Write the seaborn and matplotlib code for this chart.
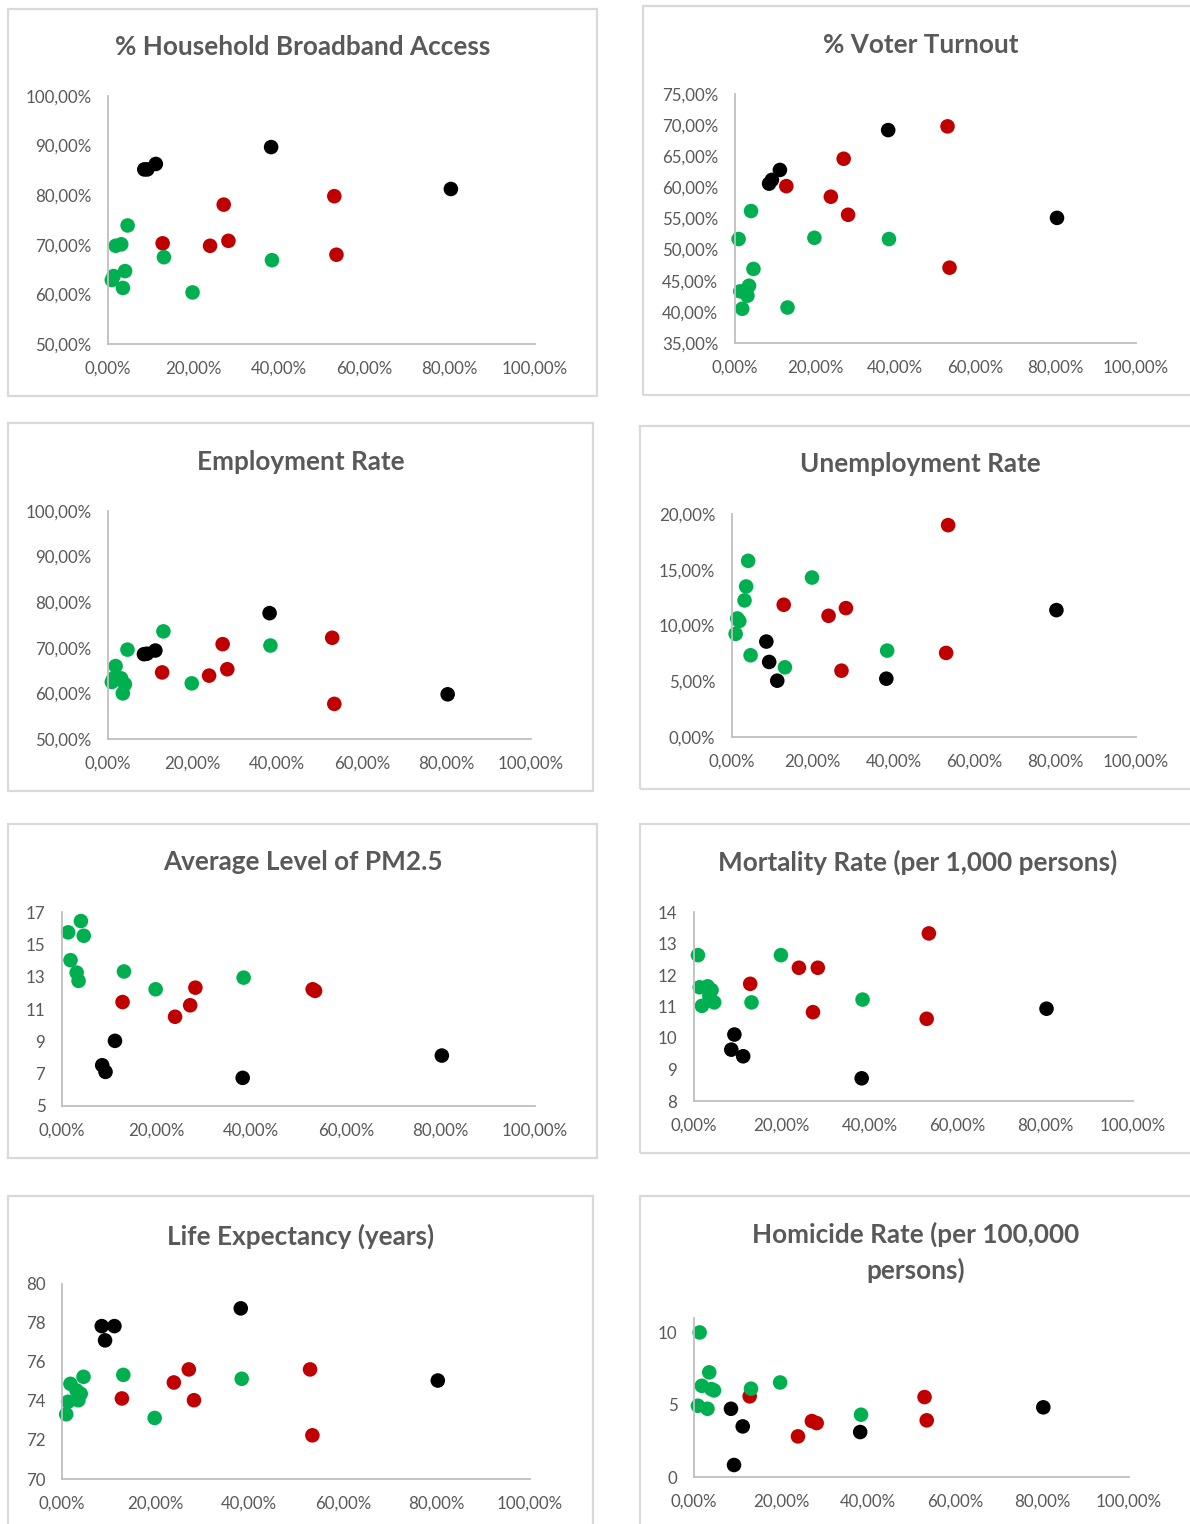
import numpy as np
import pandas as pd
import matplotlib
matplotlib.use("Agg")
import matplotlib.pyplot as plt
import seaborn as sns
from matplotlib.patches import Rectangle
from matplotlib.ticker import FuncFormatter

# Share (%) for each country, by group
black_x = [8.5, 9.2, 11.2, 38.2, 80.3]
red_x = [12.8, 23.9, 27.1, 28.2, 53.0, 53.5]
green_x = [0.9, 1.3, 1.8, 3.1, 3.5, 4.0, 4.6, 13.1, 19.8, 38.4]

# Indicator values, same country order as the x lists
broadband_black = [85.2, 85.2, 86.3, 89.7, 81.25]
broadband_red = [70.3, 69.8, 78.1, 70.8, 79.8, 68.0]
broadband_green = [62.9, 63.7, 69.8, 70.1, 61.3, 64.7, 73.9, 67.5, 60.4, 66.9]

voter_black = [60.6, 61.2, 62.8, 69.2, 55.1]
voter_red = [60.2, 58.5, 64.6, 55.6, 69.8, 47.1]
voter_green = [51.7, 43.3, 40.5, 42.6, 44.2, 56.2, 46.9, 40.7, 51.9, 51.7]

employment_black = [68.6, 68.7, 69.4, 77.6, 59.8]
employment_red = [64.6, 63.9, 70.8, 65.3, 72.2, 57.7]
employment_green = [62.5, 63.3, 66.0, 63.3, 60.0, 62.0, 69.6, 73.6, 62.2, 70.5]

unemployment_black = [8.56, 6.73, 5.05, 5.23, 11.38]
unemployment_red = [11.86, 10.87, 5.95, 11.56, 7.54, 19.0]
unemployment_green = [9.25, 10.63, 10.4, 12.25, 13.5, 15.8, 7.33, 6.25, 14.3, 7.75]

pm25_black = [7.52, 7.11, 9.03, 6.74, 8.12]
pm25_red = [11.43, 10.52, 11.23, 12.32, 12.22, 12.12]
pm25_green = [np.nan, 15.74, 14.02, 13.25, 12.74, 16.44, 15.53, 13.32, 12.22, 12.94]

mortality_black = [9.63, 10.11, 9.42, 8.72, 10.93]
mortality_red = [11.72, 12.23, 10.82, 12.23, 10.61, 13.32]
mortality_green = [12.63, 11.61, 11.02, 11.64, 11.33, 11.52, 11.13, 11.13, 12.63, 11.22]

life_black = [77.84, 77.11, 77.84, 78.75, 75.05]
life_red = [74.13, 74.95, 75.62, 74.04, 75.62, 72.24]
life_green = [73.32, 73.96, 74.88, 74.54, 74.04, 74.37, 75.24, 75.34, 73.13, 75.14]

homicide_black = [4.72, 0.83, 3.50, 3.11, 4.82]
homicide_red = [5.58, 2.81, 3.87, 3.73, 5.53, 3.92]
homicide_green = [4.93, 10.0, 6.31, 4.72, 7.24, 6.08, 5.99, 6.11, 6.54, 4.31]

titles = [
    "% Household Broadband Access", "% Voter Turnout",
    "Employment Rate", "Unemployment Rate",
    "Average Level of PM2.5", "Mortality Rate (per 1,000 persons)",
    "Life Expectancy (years)", "Homicide Rate (per 100,000\npersons)",
]
x_ticks = [0, 20, 40, 60, 80, 100]

palette = {"black": "#000000", "red": "#C00000", "green": "#00B050"}
GRAY_TEXT = "#595959"
GRAY_AXIS = "#BFBFBF"
GRAY_BOX = "#D9D9D9"

sns.set_theme(style="white")
plt.rcParams["font.family"] = ["Lato", "DejaVu Sans"]

W, H = 1190, 1524
fig = plt.figure(figsize=(W / 100, H / 100), dpi=100)
fig.patch.set_facecolor("white")


def fx(px):
    return px / W


def fy(py):
    return 1 - py / H


def pct_fmt(v, _pos):
    return f"{v:.2f}%".replace(".", ",")


def num_fmt(v, _pos):
    return f"{v:g}"


# (y values, y-limits, y-ticks, percent axis, box px, axes px, title px)
panels = [
    ((broadband_black, broadband_red, broadband_green), (50, 100), range(50, 101, 10), True,
     (8, 9, 597, 396), (108, 96, 535, 344), (303, 47)),
    ((voter_black, voter_red, voter_green), (35, 75), range(35, 76, 5), True,
     (643, 6, 1200, 395), (735, 94, 1136, 343), (921, 45)),
    ((employment_black, employment_red, employment_green), (50, 100), range(50, 101, 10), True,
     (8, 423, 593, 791), (108, 511, 531, 739), (301, 462)),
    ((unemployment_black, unemployment_red, unemployment_green), (0, 20), range(0, 21, 5), True,
     (640, 426, 1200, 789), (732, 514, 1136, 737), (920, 464)),
    ((pm25_black, pm25_red, pm25_green), (5, 17), range(5, 18, 2), False,
     (8, 824, 597, 1158), (62, 912, 535, 1106), (303, 862)),
    ((mortality_black, mortality_red, mortality_green), (8, 14), range(8, 15, 1), False,
     (640, 824, 1200, 1153), (694, 912, 1133, 1101), (918, 862)),
    ((life_black, life_red, life_green), (70, 80), range(70, 81, 2), False,
     (8, 1196, 593, 1540), (62, 1284, 530, 1479), (301, 1236)),
    ((homicide_black, homicide_red, homicide_green), (0, 11), [0, 5, 10], False,
     (640, 1196, 1200, 1540), (694, 1318, 1129, 1477), (916, 1252)),
]

for title, (ys, ylim, yticks, is_pct, box, axpx, tpos) in zip(titles, panels):
    bx0, by0, bx1, by1 = box
    fig.patches.append(Rectangle((fx(bx0), fy(by1)), fx(bx1) - fx(bx0), fy(by0) - fy(by1),
                                 transform=fig.transFigure, fill=False,
                                 edgecolor=GRAY_BOX, linewidth=1.6, zorder=0))
    fig.text(fx(tpos[0]), fy(tpos[1]), title, ha="center", va="center",
             fontsize=18.8, fontweight="bold", color=GRAY_TEXT, linespacing=1.5)

    ax0, ay0, ax1, ay1 = axpx
    ax = fig.add_axes([fx(ax0), fy(ay1), fx(ax1) - fx(ax0), fy(ay0) - fy(ay1)])
    ax.set_facecolor("none")

    df = pd.DataFrame({
        "share": black_x + red_x + green_x,
        "value": list(ys[0]) + list(ys[1]) + list(ys[2]),
        "group": ["black"] * len(black_x) + ["red"] * len(red_x) + ["green"] * len(green_x),
    }).dropna()
    sns.scatterplot(data=df, x="share", y="value", hue="group", palette=palette,
                    hue_order=["black", "red", "green"], s=110, linewidth=0,
                    legend=False, ax=ax, clip_on=False, alpha=1)

    ax.set_xlim(0, 100)
    ax.set_ylim(*ylim)
    ax.set_xticks(x_ticks)
    ax.set_yticks(list(yticks))
    ax.xaxis.set_major_formatter(FuncFormatter(pct_fmt))
    ax.yaxis.set_major_formatter(FuncFormatter(pct_fmt if is_pct else num_fmt))
    ax.set_xlabel("")
    ax.set_ylabel("")
    for side in ("top", "right"):
        ax.spines[side].set_visible(False)
    for side in ("left", "bottom"):
        ax.spines[side].set_color(GRAY_AXIS)
        ax.spines[side].set_linewidth(1.3)
    ax.tick_params(length=0, labelsize=12.2, labelcolor=GRAY_TEXT)
    ax.tick_params(axis="x", pad=12)
    ax.tick_params(axis="y", pad=12)
    ax.grid(False)

fig.savefig("out.png", dpi=100, facecolor="white")
